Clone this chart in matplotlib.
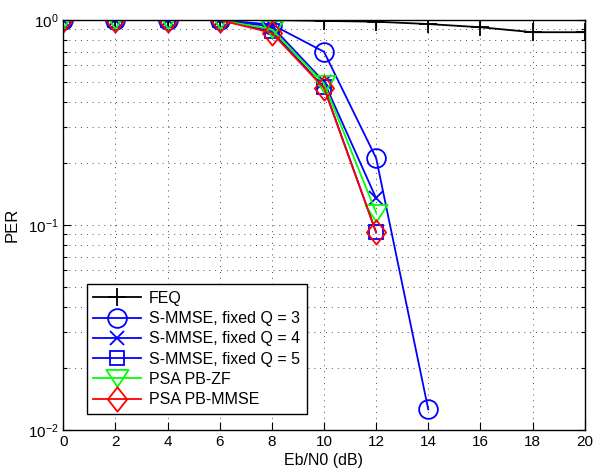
import numpy as np
import matplotlib
matplotlib.use("Agg")
import matplotlib.pyplot as plt
from matplotlib.path import Path
from matplotlib.ticker import LogLocator, NullFormatter, FixedLocator

plt.rcParams['font.family'] = ['Liberation Sans', 'DejaVu Sans']

ebn0 = [0, 2, 4, 6, 8, 10, 12, 14, 16, 18, 20]
ebn0_short = [0, 2, 4, 6, 8, 10, 12]
ebn0_q3 = [0, 2, 4, 6, 8, 10, 12, 14]

per_feq = [1.0, 1.0, 1.0, 1.0, 1.0, 0.99, 0.981, 0.956, 0.922, 0.872, 0.872]
per_q3 = [1.0, 1.0, 1.0, 1.0, 0.95, 0.70, 0.212, 0.0126]
per_q4 = [1.0, 1.0, 1.0, 1.0, 0.93, 0.50, 0.135]
per_q5 = [1.0, 1.0, 1.0, 1.0, 0.88, 0.47, 0.092]
per_zf = [1.0, 1.0, 1.0, 1.0, 0.90, 0.49, 0.115]
per_mmse = [1.0, 1.0, 1.0, 1.0, 0.865, 0.466, 0.092]

labels = ['FEQ', 'S-MMSE, fixed Q = 3', 'S-MMSE, fixed Q = 4',
          'S-MMSE, fixed Q = 5', 'PSA PB-ZF', 'PSA PB-MMSE']
xticks = [0, 2, 4, 6, 8, 10, 12, 14, 16, 18, 20]

fig = plt.figure(figsize=(5.94, 4.70), dpi=100)
ax = fig.add_axes([0.1066, 0.0851, 0.9843 - 0.1066, 0.9574 - 0.0851])

tri = Path([(-1, 0.77), (1, 0.77), (0, -0.77), (-1, 0.77)], closed=True)
dia = Path([(0, 1.0), (0.79, 0), (0, -1.0), (-0.79, 0), (0, 1.0)], closed=True)

lw = 1.3
ax.plot(ebn0, per_feq, color='k', marker='+', ms=13, mew=lw, lw=lw, label=labels[0])
ax.plot(ebn0_q3, per_q3, color='b', marker='o', ms=13.5, mfc='none', mew=lw, lw=lw, label=labels[1])
ax.plot(ebn0_short, per_q4, color='b', marker='x', ms=9.5, mfc='none', mew=lw, lw=lw, label=labels[2])
ax.plot(ebn0_short, per_q5, color='b', marker='s', ms=10.5, mfc='none', mew=lw, lw=lw, label=labels[3])
ax.plot(ebn0_short, per_zf, color=(0, 1, 0), marker=tri, ms=16, mfc='none', mew=lw, lw=lw, label=labels[4])
ax.plot(ebn0_short, per_mmse, color='r', marker=dia, ms=17.5, mfc='none', mew=lw, lw=lw, label=labels[5])

ax.set_yscale('log')
ax.set_xlim(0, 20)
ax.set_ylim(1e-2, 1)
ax.xaxis.set_major_locator(FixedLocator(xticks))
ax.set_xticklabels([str(t) for t in xticks])
ax.yaxis.set_major_locator(LogLocator(base=10, numticks=10))
ax.yaxis.set_minor_locator(LogLocator(base=10, subs=np.arange(2, 10), numticks=20))
ax.yaxis.set_minor_formatter(NullFormatter())

ax.grid(True, which='major', linestyle=(0, (1, 5)), color='0.3', lw=0.7)
ax.grid(True, which='minor', axis='y', linestyle=(0, (1, 5)), color='0.3', lw=0.7)

ax.tick_params(which='both', direction='in', top=True, right=True, labelsize=11)
ax.tick_params(which='major', length=6, width=0.8)
ax.tick_params(which='minor', length=3, width=0.8)
for s in ax.spines.values():
    s.set_linewidth(1.0)

ax.set_xlabel('Eb/N0 (dB)', fontsize=11.5, labelpad=3)
ax.set_ylabel('PER', fontsize=12, labelpad=6)

leg = ax.legend(loc='lower left', bbox_to_anchor=(0.045, 0.04), fontsize=11.5,
                fancybox=False, edgecolor='k', framealpha=1, handlelength=3.0,
                borderaxespad=0.0, labelspacing=0.33, handletextpad=0.5)
leg.get_frame().set_linewidth(1.0)

fig.savefig('out.png', dpi=100)
